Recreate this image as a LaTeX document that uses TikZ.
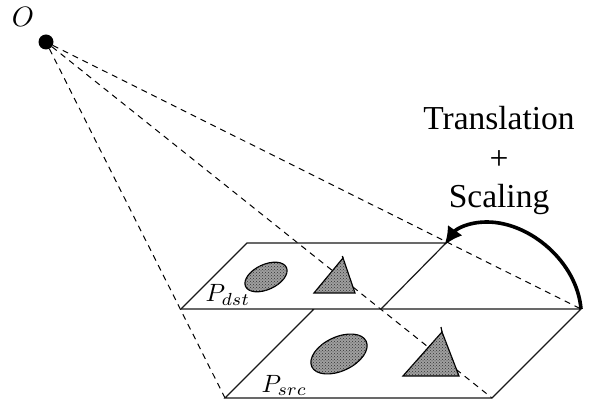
\documentclass[tikz,border=0pt]{standalone}
\usepackage{fontspec}
\setmainfont{Liberation Serif}
\usetikzlibrary{patterns,arrows.meta,shapes.geometric}
\tikzset{
  plane/.style={line width=1.2pt,draw=black!90},
  ray/.style={line width=1pt,dash pattern=on 6pt off 5pt},
  dotted fill/.style={draw=black,line width=1.2pt,fill=gray!75,postaction={pattern=crosshatch dots,pattern color=black!80}},
  blob/.style={dotted fill,ellipse,inner sep=0pt,rotate=25},
  big/.style={inner sep=0pt,font=\fontsize{33.5}{38}\selectfont},
  sym/.style={inner sep=0pt,scale=2.5},
  curved arrow/.style={line width=3.6pt,shorten >=-2.5pt,-{Latex[length=18pt,width=18pt]}}
}
\begin{document}
\begin{tikzpicture}[x=1pt,y=-1pt]
\useasboundingbox (0,0) rectangle (592,403);
\fill[white] (0,0) rectangle (592,403);
% plane corners
\coordinate (dtl) at (247,243);
\coordinate (dtr) at (446,243);
\coordinate (dbl) at (181,309);
\coordinate (dbm) at (381,309);
\coordinate (dbr) at (581,309);
\coordinate (stl) at (314,309);
\coordinate (sbl) at (225,398);
\coordinate (sbr) at (492,398);
% eye point and rays
\node[circle,fill=black,inner sep=0pt,minimum size=15pt] (eye) at (46,42) {};
\node[sym,scale=1.12] (olab) at (23,17) {$O$};
\draw[ray] (eye) -- (sbl);
\draw[ray] (eye) -- (sbr);
\draw[ray] (eye) -- (dbr);
% shaded shapes
\node[blob,minimum width=45pt,minimum height=25pt] (edst) at (266,277) {};
\node[blob,minimum width=60pt,minimum height=34pt] (esrc) at (339,354) {};
\path[dotted fill] (314,293) -- (343,258) -- (355,293) -- cycle;
\path[dotted fill] (403,376) -- (442,332) -- (459,376) -- cycle;
\draw[line width=1.2pt] (343,258) -- (342.3,256);
\draw[line width=1.2pt] (442,332) -- (441,327);
% planes
\draw[plane] (dbl) -- (dtl) -- (dtr) -- (dbm);
\draw[plane] (dbl) -- (dbr) -- (sbr) -- (sbl) -- (stl);
% labels
\node[sym,anchor=base west] (pd) at (205,302) {$P_{dst}$};
\node[sym,anchor=base west] (ps) at (261,392) {$P_{src}$};
\node[big] (t1) at (499,118) {Translation};
\node[big] (t2) at (499,160) {+};
\node[big] (t3) at (499,199) {Scaling};
% arrow
\draw[curved arrow] (dbr) .. controls (577,262) and (530,222) .. (487,222) .. controls (468,222) and (456,229) .. (dtr);
\end{tikzpicture}
\end{document}
